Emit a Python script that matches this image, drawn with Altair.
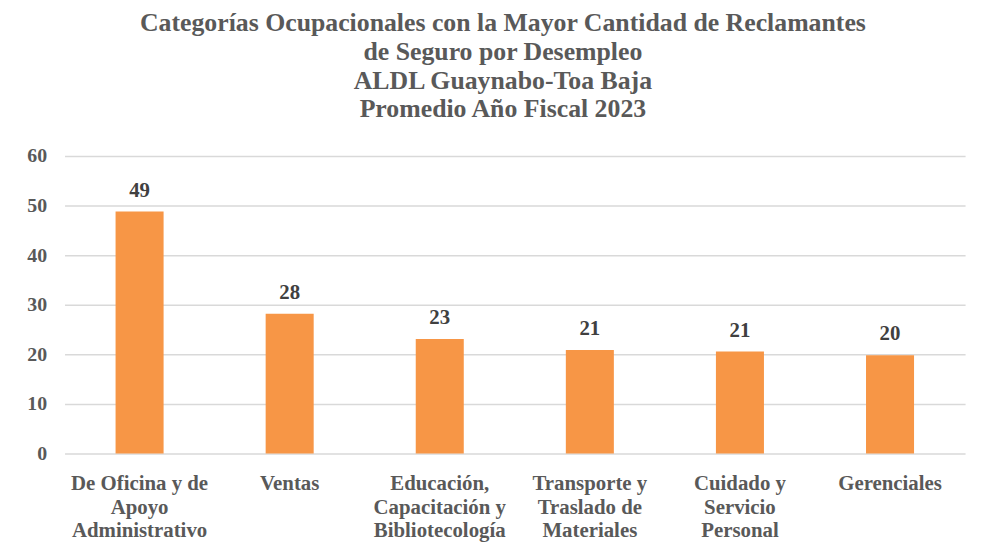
import altair as alt
import pandas as pd

categories = [
    "De Oficina y de|Apoyo|Administrativo",
    "Ventas",
    "Educación,|Capacitación y|Bibliotecología",
    "Transporte y|Traslado de|Materiales",
    "Cuidado y|Servicio|Personal",
    "Gerenciales",
]
values = [48.8, 28.2, 23.1, 20.9, 20.6, 19.8]
labels = ["49", "28", "23", "21", "21", "20"]
y_ticks = [0, 10, 20, 30, 40, 50, 60]

df = pd.DataFrame({"cat": categories, "val": values, "lab": labels})

FONT = "Liberation Serif"
GRAY = "#595959"

x = alt.X(
    "cat:N",
    sort=categories,
    title=None,
    scale=alt.Scale(paddingInner=0.68, paddingOuter=0.34),
    axis=alt.Axis(
        labelExpr="split(datum.label, '|')",
        labelAngle=0,
        labelFont=FONT,
        labelFontSize=21,
        labelFontWeight="bold",
        labelColor=GRAY,
        labelLineHeight=24,
        labelPadding=19,
        ticks=False,
        domain=False,
        grid=False,
        labelBaseline="top",
    ),
)
y = alt.Y(
    "val:Q",
    title=None,
    scale=alt.Scale(domain=[0, 60]),
    axis=alt.Axis(
        values=y_ticks,
        labelFont=FONT,
        labelFontSize=20,
        labelFontWeight="bold",
        labelColor=GRAY,
        labelPadding=18,
        ticks=False,
        domain=False,
        gridColor="#D9D9D9",
        gridWidth=1.5,
    ),
)

bars = alt.Chart(df).mark_bar(color="#F79646").encode(x=x, y=y)
text = alt.Chart(df).mark_text(
    dy=-21, font=FONT, fontSize=21, fontWeight="bold", color="#404040"
).encode(x=alt.X("cat:N", sort=categories), y="val:Q", text="lab:N")

chart = (
    alt.layer(bars, text)
    .properties(
        width=908,
        height=300,
        background="white",
        autosize=alt.AutoSizeParams(type="none"),
        padding={"left": 57, "top": 147, "right": 9, "bottom": 90},
        title=alt.TitleParams(
            text=[
                "Categorías Ocupacionales con la Mayor Cantidad de Reclamantes",
                "de  Seguro por Desempleo",
                "ALDL Guaynabo-Toa Baja",
                "Promedio Año Fiscal 2023",
            ],
            font=FONT,
            fontSize=26,
            fontWeight="bold",
            color=GRAY,
            lineHeight=29,
            anchor="middle",
            dx=-12,
            offset=24,
        ),
    )
    .configure_view(strokeWidth=0, stroke="transparent")
)

chart.save("out.html", embed_options={"renderer": "svg", "actions": False})
